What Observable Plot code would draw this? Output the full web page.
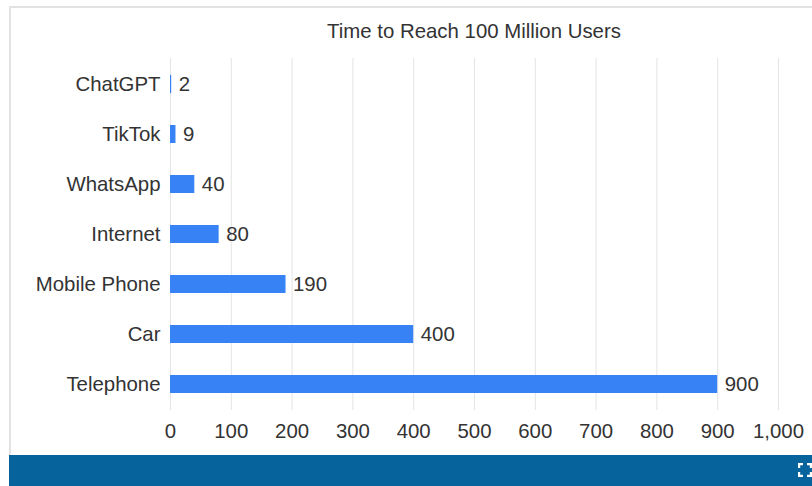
<!DOCTYPE html>
<html>
<head>
<meta charset="utf-8">
<script src="https://cdn.jsdelivr.net/npm/d3@7"></script>
<script src="https://cdn.jsdelivr.net/npm/@observablehq/plot@0.6"></script>
<style>
  html, body { margin: 0; padding: 0; background: #fff; }
  body { width: 812px; height: 486px; position: relative; overflow: hidden; font-family: "Liberation Sans", Arial, sans-serif; }
  #frame { position: absolute; left: 9px; top: 6px; right: -2px; height: 449px; border-left: 2px solid #e2e2e2; border-top: 2px solid #e2e2e2; box-sizing: border-box; pointer-events: none; }
  #title { position: absolute; left: 170px; width: 608px; top: 19px; text-align: center; font-size: 20.4px; color: #333; line-height: 24px; }
  #chart { position: absolute; left: 0; top: 50px; }
  #footer { position: absolute; left: 9px; right: 0; top: 455px; height: 31px; background: #07639c; }
  #icon { position: absolute; right: 0; top: 8px; width: 14px; height: 14px; }
</style>
</head>
<body>
<div id="frame"></div>
<div id="title">Time to Reach 100 Million Users</div>
<div id="chart"></div>
<div id="footer">
  <svg id="icon" viewBox="0 0 14 14"><path d="M1 5V1h4M9 1h4v4M13 9v4H9M5 13H1V9" fill="none" stroke="#fff" stroke-width="2.4"/></svg>
</div>
<script>
const categories = ["ChatGPT", "TikTok", "WhatsApp", "Internet", "Mobile Phone", "Car", "Telephone"];
const months = [2, 9, 40, 80, 190, 400, 900];
const xTicks = [0, 100, 200, 300, 400, 500, 600, 700, 800, 900, 1000];

const data = categories.map((c, i) => ({name: c, value: months[i]}));

const fs = 20.4;
const plot = Plot.plot({
  width: 812,
  height: 405,
  marginLeft: 170,
  marginRight: 34,
  marginTop: 8,
  marginBottom: 45,
  style: {fontFamily: "'Liberation Sans', Arial, sans-serif", fontSize: fs + "px", color: "#333", background: "transparent"},
  x: {domain: [0, 1000], ticks: xTicks, tickFormat: d3.format(","), label: null},
  y: {domain: categories, paddingInner: 0.64, paddingOuter: 0.32, label: null},
  marks: [
    Plot.gridX(xTicks, {stroke: "#e4e4e4", strokeOpacity: 1, strokeWidth: 1}),
    Plot.barX(data, {x: "value", y: "name", fill: "#3783f5"}),
    Plot.text(data, {x: "value", y: "name", text: d => String(d.value), textAnchor: "start", dx: 7, fill: "#333", fontSize: fs}),
    Plot.axisX({ticks: xTicks, tickFormat: d3.format(","), tickSize: 0, tickPadding: 13, fontSize: fs, fill: "#333", label: null}),
    Plot.axisY({tickSize: 0, tickPadding: 10, fontSize: fs, fill: "#333", label: null})
  ]
});
document.getElementById("chart").appendChild(plot);
</script>
</body>
</html>
